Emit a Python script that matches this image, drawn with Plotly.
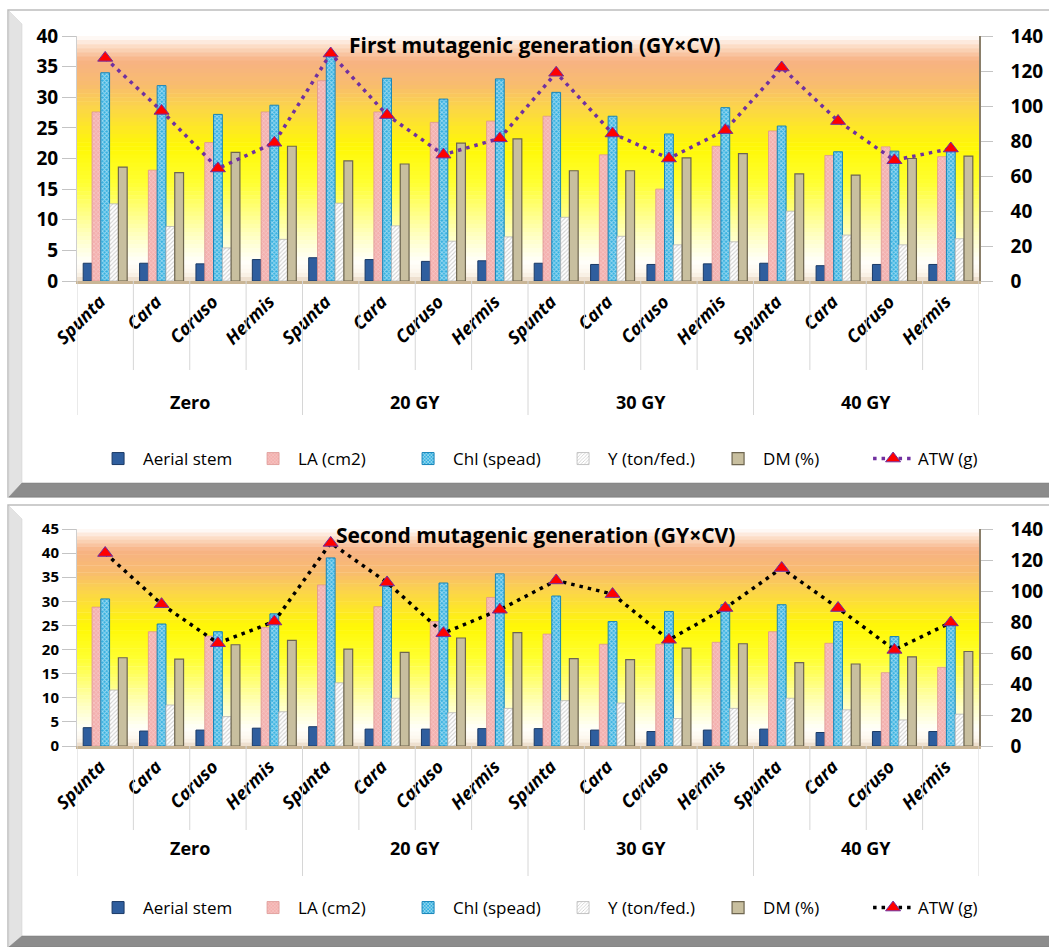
import plotly.graph_objects as go

# ---------------- data ----------------
gy_levels = ["Zero", "20 GY", "30 GY", "40 GY"]
cultivars = ["Spunta", "Cara", "Caruso", "Hermis"]
series_names = ["Aerial stem", "LA (cm2)", "Chl (spead)", "Y (ton/fed.)", "DM (%)", "ATW (g)"]

gen1_aerial = [2.9, 2.9, 2.8, 3.5, 3.8, 3.5, 3.2, 3.3, 2.9, 2.7, 2.7, 2.8, 2.9, 2.5, 2.7, 2.7]
gen1_la     = [27.6, 18.1, 22.6, 27.6, 32.7, 27.6, 25.9, 26.1, 26.9, 20.6, 15.0, 22.0, 24.5, 20.5, 21.9, 20.3]
gen1_chl    = [34.0, 31.9, 27.2, 28.7, 37.0, 33.1, 29.7, 33.0, 30.8, 26.9, 24.0, 28.3, 25.3, 21.1, 21.2, 21.6]
gen1_y      = [12.6, 8.9, 5.4, 6.8, 12.7, 9.0, 6.5, 7.2, 10.4, 7.3, 5.9, 6.4, 11.4, 7.5, 5.9, 6.9]
gen1_dm     = [18.6, 17.7, 21.0, 22.0, 19.6, 19.1, 22.5, 23.2, 18.0, 18.0, 20.1, 20.8, 17.5, 17.3, 20.0, 20.4]
gen1_atw    = [127.5, 97.2, 64.3, 79.0, 130.0, 94.8, 72.2, 81.5, 119.0, 84.3, 70.0, 86.2, 122.0, 91.4, 69.0, 75.7]

gen2_aerial = [3.8, 3.1, 3.3, 3.7, 4.0, 3.5, 3.5, 3.6, 3.6, 3.3, 3.0, 3.3, 3.5, 2.8, 3.0, 3.0]
gen2_la     = [28.8, 23.7, 22.8, 24.6, 33.4, 28.9, 25.8, 30.8, 23.2, 21.1, 21.1, 21.5, 23.7, 21.3, 15.2, 16.3]
gen2_chl    = [30.5, 25.3, 23.7, 27.4, 39.0, 33.1, 33.8, 35.7, 31.1, 25.8, 27.9, 29.3, 29.3, 25.8, 22.7, 25.1]
gen2_y      = [11.6, 8.5, 6.1, 7.1, 13.1, 9.9, 6.9, 7.8, 9.4, 8.9, 5.7, 7.8, 9.9, 7.5, 5.4, 6.6]
gen2_dm     = [18.3, 18.0, 21.0, 21.9, 20.1, 19.4, 22.4, 23.5, 18.1, 17.9, 20.3, 21.2, 17.3, 17.0, 18.5, 19.6]
gen2_atw    = [124.5, 91.5, 66.3, 80.3, 131.0, 105.5, 72.8, 87.9, 106.8, 98.0, 68.5, 89.0, 114.8, 89.0, 62.0, 79.7]

titles = ["First mutagenic generation (GY×CV)", "Second mutagenic generation (GY×CV)"]

# ---------------- helpers ----------------
W, H = 1049, 947
FONT = "'Open Sans', Lato, sans-serif"

def px(x):
    return x / W

def py(y):
    return 1 - y / H

categories = [f"{g}|{c}" for g in gy_levels for c in cultivars]
cat_labels = [c for g in gy_levels for c in cultivars]

bar_styles = [
    dict(color="#2F5E9E", line=dict(color="#1B3A66", width=1)),
    dict(color="#F4B4B2", pattern=dict(shape="x", fgcolor="#FDEAEA", bgcolor="#F3B0AE", size=3, solidity=0.35),
         line=dict(color="#DC9593", width=0.8)),
    dict(color="#3BB4E2", pattern=dict(shape="x", fgcolor="#FFFFFF", bgcolor="#33B0E0", size=3, solidity=0.55),
         line=dict(color="#1784B8", width=1)),
    dict(color="#B8B8B8", pattern=dict(shape="/", fgcolor="#A0A0A0", bgcolor="#FFFFFF", size=3, solidity=0.35),
         line=dict(color="#B5B5B5", width=0.8)),
    dict(color="#C8BF9F", line=dict(color="#6E6650", width=1.2)),
]

panels = [
    dict(bars=[gen1_aerial, gen1_la, gen1_chl, gen1_y, gen1_dm], atw=gen1_atw,
         x="x", y="y", y2="y2", legend="legend", line_color="#7030A0", left_font=19,
         top=36, bottom=281, ymax=40, frame_top=10, frame_bottom=497, band=483,
         short_end=370, long_end=415, group_y=402, title_y=45, legend_y=459),
    dict(bars=[gen2_aerial, gen2_la, gen2_chl, gen2_y, gen2_dm], atw=gen2_atw,
         x="x2", y="y3", y2="y4", legend="legend2", line_color="#000000", left_font=15,
         top=529, bottom=746, ymax=45, frame_top=505, frame_bottom=947, band=936,
         short_end=830, long_end=876, group_y=862, title_y=535, legend_y=908),
]

fig = go.Figure()
shapes = []
annotations = []

plot_x0, plot_x1 = 77, 979

# gradient stops (fraction from top of plot area, rgb)
stops = [
    (0.00, (255, 255, 255)),
    (0.04, (252, 222, 200)),
    (0.10, (247, 178, 132)),
    (0.20, (248, 188, 110)),
    (0.30, (252, 215, 70)),
    (0.45, (255, 248, 5)),
    (0.60, (255, 255, 50)),
    (0.80, (255, 255, 185)),
    (0.92, (255, 255, 250)),
    (0.97, (252, 246, 236)),
    (1.00, (232, 216, 196)),
]

def color_at(f):
    for (f0, c0), (f1, c1) in zip(stops[:-1], stops[1:]):
        if f0 <= f <= f1:
            t = 0 if f1 == f0 else (f - f0) / (f1 - f0)
            return "rgb(%d,%d,%d)" % tuple(round(a + (b - a) * t) for a, b in zip(c0, c1))
    return "rgb(%d,%d,%d)" % stops[-1][1]

NB = 60

for pi, p in enumerate(panels):
    # panel frame
    shapes.append(dict(type="rect", xref="paper", yref="paper", x0=px(8), x1=px(1060),
                       y0=py(p["frame_bottom"]), y1=py(p["frame_top"]),
                       line=dict(color="#BDBDBD", width=1.5), fillcolor="white", layer="below"))
    # left bevel
    path = "M %f,%f L %f,%f L %f,%f L %f,%f Z" % (
        px(9), py(p["frame_top"] + 1), px(22), py(p["frame_top"] + 14),
        px(22), py(p["band"]), px(9), py(p["frame_bottom"]))
    shapes.append(dict(type="path", xref="paper", yref="paper", path=path,
                       fillcolor="#E3E3E3", line=dict(color="#D0D0D0", width=0.5), layer="below"))
    # bottom band
    path = "M %f,%f L %f,%f L %f,%f L %f,%f Z" % (
        px(9), py(p["frame_bottom"]), px(22), py(p["band"]),
        px(1060), py(p["band"]), px(1060), py(p["frame_bottom"]))
    shapes.append(dict(type="path", xref="paper", yref="paper", path=path,
                       fillcolor="#8C8C8C", line=dict(color="#7A7A7A", width=0.5), layer="below"))

    # gradient background in plot area
    yd = p["y"] + " domain"
    for k in range(NB):
        f0 = k / NB
        f1 = (k + 1) / NB
        shapes.append(dict(type="rect", xref=p["x"] + " domain", yref=yd,
                           x0=0, x1=1, y0=1 - f1 - 0.002, y1=1 - f0,
                           fillcolor=color_at((f0 + f1) / 2), line=dict(width=0), layer="below"))

    # bars
    for si in range(5):
        fig.add_trace(go.Bar(
            x=categories, y=p["bars"][si], name=series_names[si],
            xaxis=p["x"], yaxis=p["y"], legend=p["legend"],
            marker=bar_styles[si], showlegend=True,
        ))
    # ATW line
    fig.add_trace(go.Scatter(
        x=categories, y=p["atw"], name=series_names[5],
        xaxis=p["x"], yaxis=p["y2"], legend=p["legend"], mode="lines+markers",
        line=dict(color=p["line_color"], width=3.5, dash="3.5px,5px"),
        marker=dict(symbol="triangle-up", size=13, color="#FF0000",
                    line=dict(color="#7030A0", width=1)),
    ))

    # category boundary lines under the axis
    for i in range(len(categories) + 1):
        is_group = i % len(cultivars) == 0
        shapes.append(dict(type="line", xref=p["x"], yref="paper",
                           x0=i - 0.5, x1=i - 0.5, y0=py(p["bottom"]),
                           y1=py(p["long_end"] if is_group else p["short_end"]),
                           line=dict(color="#D6D6D6", width=1)))
    # group labels
    for gi, g in enumerate(gy_levels):
        idx = [categories.index(f"{g}|{c}") for c in cultivars]
        annotations.append(dict(xref=p["x"], yref="paper", x=sum(idx) / len(idx), y=py(p["group_y"]),
                                text=g, showarrow=False,
                                font=dict(family=FONT, size=18, color="#000", weight="bold")))
    # title
    annotations.append(dict(xref="paper", yref="paper", x=px(535), y=py(p["title_y"]),
                            text=titles[pi], showarrow=False, yanchor="middle",
                            font=dict(family=FONT, size=21, color="#000", weight="bold")))

axis_common = dict(showgrid=False, zeroline=False, automargin=False)

def xaxis_cfg(p):
    return dict(type="category", categoryorder="array", categoryarray=categories,
                tickvals=categories, ticktext=cat_labels, tickangle=-45,
                tickfont=dict(family=FONT, size=18, color="#000", weight="bold", style="italic"),
                ticklabelshift=-5,
                range=[-0.5, len(categories) - 0.5], domain=[px(plot_x0), px(plot_x1)],
                anchor=p["y"], showline=True, linecolor="#C9B595", linewidth=3, ticks="",
                **axis_common)

def yaxis_cfg(p):
    return dict(range=[0, p["ymax"]], dtick=5, domain=[py(p["bottom"]), py(p["top"])],
                anchor=p["x"], showline=True, linecolor="#CFCFCF", linewidth=1,
                ticks="outside", ticklen=14, tickcolor="#C4C4C4",
                tickfont=dict(family=FONT, size=p["left_font"], color="#000", weight="bold"), **axis_common)

def y2axis_cfg(p):
    return dict(range=[0, 140], dtick=20, overlaying=p["y"], side="right", anchor=p["x"],
                showline=True, linecolor="#8A7F6A", linewidth=1.5,
                ticks="outside", ticklen=12, tickcolor="#C4C4C4", ticklabelstandoff=14,
                tickfont=dict(family=FONT, size=19, color="#000", weight="bold"), **axis_common)

legend_cfg = lambda p: dict(orientation="h", x=0.532, xanchor="center", y=py(p["legend_y"]), yanchor="middle",
                            font=dict(family=FONT, size=17, color="#000"), bgcolor="rgba(0,0,0,0)",
                            entrywidth=100, entrywidthmode="pixels", itemwidth=40, traceorder="normal")

fig.update_layout(
    width=W, height=H, margin=dict(l=0, r=0, t=0, b=0, autoexpand=False),
    paper_bgcolor="white", plot_bgcolor="rgba(0,0,0,0)",
    barmode="group", bargap=0.22, bargroupgap=0,
    xaxis=xaxis_cfg(panels[0]), yaxis=yaxis_cfg(panels[0]), yaxis2=y2axis_cfg(panels[0]),
    xaxis2=xaxis_cfg(panels[1]), yaxis3=yaxis_cfg(panels[1]), yaxis4=y2axis_cfg(panels[1]),
    legend=legend_cfg(panels[0]), legend2=legend_cfg(panels[1]),
    shapes=shapes, annotations=annotations,
    font=dict(family=FONT),
)

fig.write_html("out.html")
